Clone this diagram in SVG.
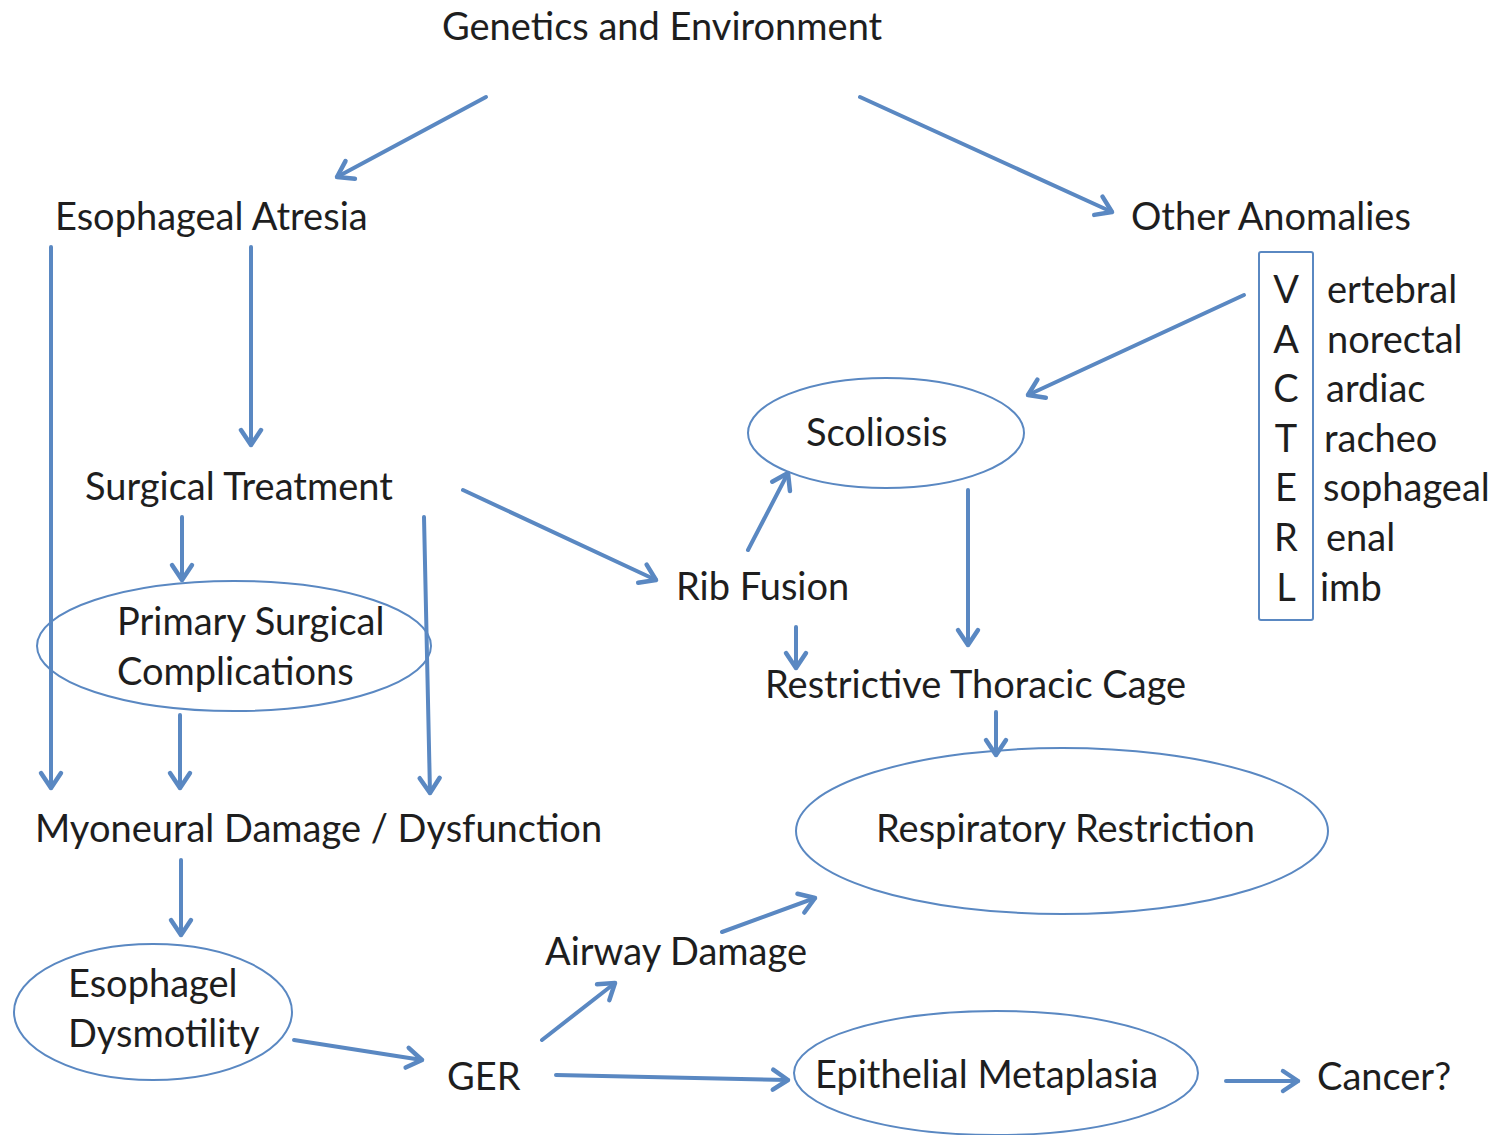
<svg xmlns="http://www.w3.org/2000/svg" width="1499" height="1135" viewBox="0 0 1499 1135">
<style>
text{font-family:Lato,"Open Sans","Liberation Sans",sans-serif;font-size:38px;fill:#1e1e1e}
.c line{stroke:#5a88c2;stroke-width:4;stroke-linecap:round;marker-end:url(#ah)}
.n ellipse,.n rect{fill:none;stroke:#5a88c2;stroke-width:2}
.m text{text-anchor:middle}
</style>
<defs>
<marker id="ah" markerUnits="userSpaceOnUse" markerWidth="40" markerHeight="40" viewBox="-20 -20 40 40" refX="0" refY="0" orient="auto">
<path d="M-15,-10 L0,0 L-15,10" fill="none" stroke="#5a88c2" stroke-width="4.5" stroke-linecap="round" stroke-linejoin="round"/>
</marker>
</defs>
<rect width="1499" height="1135" fill="#fff"/>
<g class="c" id="connectors">
<line x1="486" y1="97" x2="337" y2="177"/>
<line x1="860" y1="97" x2="1112" y2="212"/>
<line x1="51" y1="247" x2="51" y2="788"/>
<line x1="251" y1="247" x2="251" y2="445"/>
<line x1="182" y1="517" x2="182" y2="580"/>
<line x1="424" y1="517" x2="430" y2="793"/>
<line x1="180" y1="715" x2="180" y2="788"/>
<line x1="181" y1="860" x2="181" y2="935"/>
<line x1="294" y1="1040" x2="422" y2="1060"/>
<line x1="542" y1="1040" x2="615" y2="983"/>
<line x1="722" y1="932" x2="815" y2="898"/>
<line x1="556" y1="1075" x2="788" y2="1080"/>
<line x1="1226" y1="1081" x2="1298" y2="1081"/>
<line x1="463" y1="490" x2="656" y2="580"/>
<line x1="748" y1="550" x2="788" y2="473"/>
<line x1="1244" y1="295" x2="1028" y2="395"/>
<line x1="968" y1="490" x2="968" y2="645"/>
<line x1="796" y1="627" x2="796" y2="668"/>
<line x1="996" y1="712" x2="996" y2="755"/>
</g>
<g id="genetics" class="n"><text x="442" y="40">Genetics and Environment</text></g>
<g id="esophageal-atresia" class="n"><text x="55" y="230">Esophageal Atresia</text></g>
<g id="other-anomalies" class="n"><text x="1131" y="230">Other Anomalies</text></g>
<g id="vacterl" class="n">
<rect x="1259" y="252" width="54" height="368" rx="2"/>
<g class="m">
<text x="1286" y="303">V</text><text x="1286" y="353">A</text><text x="1286" y="402">C</text><text x="1286" y="452">T</text><text x="1286" y="501">E</text><text x="1286" y="551">R</text><text x="1286" y="601">L</text>
</g>
<text x="1327" y="303">ertebral</text><text x="1327" y="353">norectal</text><text x="1326" y="402">ardiac</text><text x="1324" y="452">racheo</text><text x="1323" y="501">sophageal</text><text x="1326" y="551">enal</text><text x="1320" y="601">imb</text>
</g>
<g id="surgical-treatment" class="n"><text x="85" y="500">Surgical Treatment</text></g>
<g id="primary-complications" class="n">
<ellipse cx="234" cy="646" rx="197" ry="65"/>
<text x="117" y="635">Primary Surgical</text>
<text x="117" y="685">Complications</text>
</g>
<g id="myoneural" class="n"><text x="35" y="842">Myoneural Damage / Dysfunction</text></g>
<g id="dysmotility" class="n">
<ellipse cx="153" cy="1012" rx="139" ry="68"/>
<text x="68" y="997">Esophagel</text>
<text x="68" y="1047">Dysmotility</text>
</g>
<g id="ger" class="n"><text x="447" y="1090">GER</text></g>
<g id="airway" class="n"><text x="545" y="965">Airway Damage</text></g>
<g id="respiratory" class="n">
<ellipse cx="1062" cy="831" rx="266" ry="83"/>
<text x="876" y="842">Respiratory Restriction</text>
</g>
<g id="epithelial" class="n">
<ellipse cx="996" cy="1073" rx="202" ry="62"/>
<text x="815" y="1088">Epithelial Metaplasia</text>
</g>
<g id="cancer" class="n"><text x="1317" y="1090">Cancer?</text></g>
<g id="rib-fusion" class="n"><text x="676" y="600">Rib Fusion</text></g>
<g id="scoliosis" class="n">
<ellipse cx="886" cy="433" rx="138" ry="55"/>
<text x="806" y="446">Scoliosis</text>
</g>
<g id="thoracic-cage" class="n"><text x="765" y="698">Restrictive Thoracic Cage</text></g>
</svg>
